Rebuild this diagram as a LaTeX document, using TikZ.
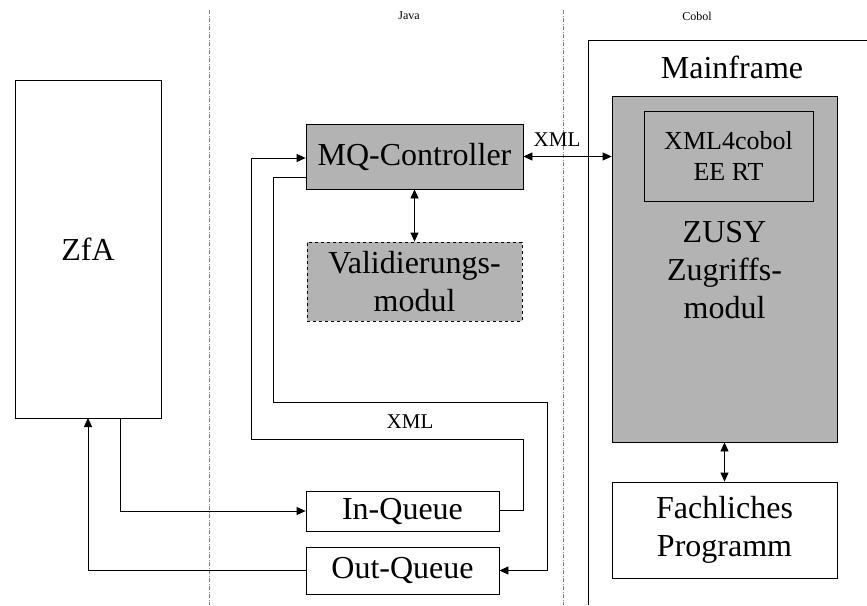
\documentclass[tikz,border=0pt]{standalone}
\usepackage{fontspec}
\setmainfont{Liberation Serif}
\usetikzlibrary{arrows.meta}
\definecolor{boxgray}{RGB}{179,179,179}
\begin{document}
\begin{tikzpicture}[x=1pt,y=-1pt,
  box/.style={draw=black,line width=0.8pt,rectangle,inner sep=0pt,align=center,font=\fontsize{32}{38}\selectfont},
  graybox/.style={box,fill=boxgray},
  conn/.style={line width=0.8pt},
  arr/.style={conn,-{Triangle[length=9pt,width=8pt]}},
  darr/.style={conn,{Triangle[length=9pt,width=8pt]}-{Triangle[length=9pt,width=8pt]}},
  small/.style={font=\fontsize{21}{25}\selectfont,inner sep=0pt},
  tiny/.style={font=\fontsize{12}{14}\selectfont,inner sep=0pt},
  sep/.style={gray,line width=0.6pt,dash pattern=on 4pt off 1.5pt on 1pt off 1.5pt}]
\useasboundingbox (0,0) rectangle (867,605);
% separators
\coordinate (s1t) at (209,10); \coordinate (s1b) at (209,605);
\coordinate (s2t) at (563,10); \coordinate (s2b) at (563,605);
\draw[sep] (s1t) -- (s1b);
\draw[sep] (s2t) -- (s2b);
\node[tiny] (java) at (409,16) {Java};
\node[tiny] (cobol) at (697,16) {Cobol};
% mainframe frame
\coordinate (mfa) at (866.5,40); \coordinate (mfb) at (588,40); \coordinate (mfc) at (588,605);
\draw[line width=0.8pt] (mfa) -- (mfb) -- (mfc);
\node[font=\fontsize{32}{38}\selectfont,inner sep=0pt] (mftitle) at (732,67) {Mainframe};
% boxes
\node[box,minimum width=146pt,minimum height=338pt] (zfa) at (88,249) {ZfA};
\node[graybox,minimum width=217pt,minimum height=65pt] (mq) at (414.5,156.5) {MQ-Controller};
\node[graybox,dashed,minimum width=215pt,minimum height=79pt] (val) at (414.5,281.5) {Validierungs-\\modul};
\node[box,minimum width=193pt,minimum height=40pt] (inq) at (402.5,511) {In-Queue};
\node[box,minimum width=193pt,minimum height=47pt] (outq) at (402.5,570.5) {Out-Queue};
\node[graybox,minimum width=225pt,minimum height=346pt] (zusy) at (724.5,269) {};
\node[box,minimum width=169pt,minimum height=90pt,font=\fontsize{26}{31}\selectfont] (xml4) at (728.5,156) {XML4cobol\\EE RT};
\node[align=center,inner sep=0pt,font=\fontsize{32}{38}\selectfont] (zusytext) at (724.5,270) {ZUSY\\Zugriffs-\\modul};
\node[box,minimum width=225pt,minimum height=96pt] (fach) at (724.5,530) {Fachliches\\Programm};
% connectors
\draw[darr] (mq.east) -- (zusy.west |- mq.east);
\node[small] (xmlA) at (557,140) {XML};
\draw[darr] (mq.south) -- (val.north);
\draw[darr] (zusy.south) -- (fach.north);
\coordinate (zfaout) at (120,418);
\coordinate (zfain) at (88,418);
\draw[arr] (zfaout) |- (inq.west);
\draw[arr] (outq.west) -| (zfain);
\coordinate (a1) at (523,510);
\coordinate (a2) at (523,439);
\coordinate (a3) at (251,439);
\coordinate (a4) at (251,158);
\draw[arr] (inq.east |- a1) -- (a1) -- (a2) -- (a3) -- (a4) -- (mq.west |- a4);
\node[small] (xmlB) at (410,422) {XML};
\coordinate (b0) at (306,177);
\coordinate (b1) at (273,177);
\coordinate (b2) at (273,402);
\coordinate (b3) at (547,402);
\draw[arr] (b0) -- (b1) -- (b2) -- (b3) |- (outq.east);
\end{tikzpicture}
\end{document}
